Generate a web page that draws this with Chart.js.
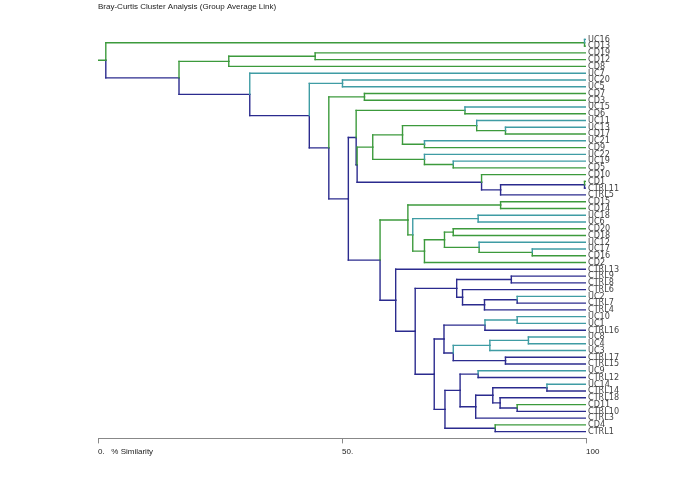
<!DOCTYPE html>
<html>
<head>
<meta charset="utf-8">
<script src="https://cdn.jsdelivr.net/npm/chart.js@4.4.0/dist/chart.umd.min.js"></script>
<style>
  html, body { margin: 0; padding: 0; background: #fff; }
</style>
</head>
<body>
<canvas id="dendro" width="685" height="480"></canvas>
<script>
// leaves, top to bottom
const leafLabels = [
  'UC16', 'CD13', 'CD19', 'CD12', 'CD8', 'UC7', 'UC20', 'UC5', 'CD7', 'CD3',
  'UC15', 'CD6', 'UC11', 'UC13', 'CD17', 'UC21', 'CD9', 'UC22', 'UC19', 'CD5',
  'CD10', 'CD1', 'CTRL11', 'CTRL5', 'CD15', 'CD14', 'UC18', 'UC6', 'CD20', 'CD18',
  'UC12', 'UC17', 'CD16', 'CD2', 'CTRL13', 'CTRL9', 'CTRL8', 'CTRL6', 'UC2', 'CTRL7',
  'CTRL4', 'UC10', 'UC1', 'CTRL16', 'UC8', 'UC4', 'UC3', 'CTRL17', 'CTRL15', 'UC9',
  'CTRL12', 'UC14', 'CTRL14', 'CTRL18', 'CD11', 'CTRL10', 'CTRL3', 'CD4', 'CTRL1'
];

// merges: cluster #i joins mergeTop[i] and mergeBottom[i] at mergeSimilarity[i] (%)
const mergeTop = [
  'UC16', 'CD19', '#1', 'UC20', 'CD7', 'UC15', 'UC13', 'UC11', 'UC21', '#7',
  'UC19', 'UC22', '#9', 'CD1', '#13', 'CD10', '#12', '#5', 'CD15', 'UC18',
  'CD20', 'UC17', 'UC12', '#20', '#23', '#19', '#18', 'CTRL9', 'UC2', '#28',
  'CTRL6', '#27', 'UC10', '#32', 'UC8', '#34', 'CTRL17', '#35', '#33', 'UC9',
  'UC14', 'CD11', 'CTRL18', '#40', '#43', '#39', 'CD4', '#45', '#38', '#31',
  'CTRL13', '#26', '#17', '#4', '#3', 'UC7', '#2', '#0'
];
const mergeBottom = [
  'CD13', 'CD12', 'CD8', 'UC5', 'CD3', 'CD6', 'CD17', '#6', 'CD9', '#8',
  'CD5', '#10', '#11', 'CTRL11', 'CTRL5', '#14', '#15', '#16', 'CD14', 'UC6',
  'CD18', 'CD16', '#21', '#22', 'CD2', '#24', '#25', 'CTRL8', 'CTRL7', 'CTRL4',
  '#29', '#30', 'UC1', 'CTRL16', 'UC4', 'UC3', 'CTRL15', '#36', '#37', 'CTRL12',
  'CTRL14', 'CTRL10', '#41', '#42', 'CTRL3', '#44', 'CTRL1', '#46', '#47', '#48',
  '#49', '#50', '#51', '#52', '#53', '#54', '#55', '#56'
];
const mergeSimilarity = [
  99.7, 44.5, 26.8, 50.1, 54.6, 75.2, 83.5, 77.6, 66.9, 62.4,
  72.8, 66.9, 56.3, 99.7, 82.5, 78.6, 53.1, 52.9, 82.5, 77.9,
  72.8, 89.0, 78.1, 71.0, 66.9, 64.5, 63.5, 84.7, 85.9, 79.2,
  74.7, 73.5, 85.9, 79.3, 88.2, 80.3, 83.5, 72.8, 70.9, 77.9,
  92.0, 85.9, 82.4, 80.9, 77.4, 74.2, 81.4, 71.1, 68.9, 65.0,
  61.0, 57.8, 51.3, 47.3, 43.3, 31.1, 16.6, 1.6
];

const xTickValues = [0, 50, 100];
const xTickLabels = ['0.   % Similarity', '50.', '100'];

const groupColors = { CD: '#3c9a3c', UC: '#3f9ca4', CTRL: '#2b2b8e' };
const groupRank = { UC: 0, CD: 1, CTRL: 2 };

function groupOf(label) {
  return label.startsWith('CTRL') ? 'CTRL' : label.slice(0, 2);
}

// work out node positions from the merge table
const nodes = {};
leafLabels.forEach((lab, i) => {
  nodes[lab] = { x: 100, y: i, group: groupOf(lab) };
});
mergeTop.forEach((a, i) => {
  const top = nodes[a], bot = nodes[mergeBottom[i]];
  const group = groupRank[top.group] > groupRank[bot.group] ? top.group : bot.group;
  nodes['#' + i] = { x: mergeSimilarity[i], y: (top.y + bot.y) / 2, group: group, top: top, bot: bot };
});

const segments = [];
function seg(x1, y1, x2, y2, group) {
  segments.push({
    data: [{ x: x1, y: y1 }, { x: x2, y: y2 }],
    borderColor: groupColors[group],
    borderWidth: 1.4,
    borderCapStyle: 'square',
    pointRadius: 0,
    showLine: true
  });
}
mergeTop.forEach((a, i) => {
  const n = nodes['#' + i];
  seg(n.top.x, n.top.y, n.x, n.top.y, n.top.group);
  seg(n.bot.x, n.bot.y, n.x, n.bot.y, n.bot.group);
  seg(n.x, n.top.y, n.x, n.y, n.top.group);
  seg(n.x, n.y, n.x, n.bot.y, n.bot.group);
});
const root = nodes['#' + (mergeTop.length - 1)];
seg(0, root.y, root.x, root.y, root.top.group);

new Chart(document.getElementById('dendro').getContext('2d'), {
  type: 'scatter',
  data: { datasets: segments },
  options: {
    responsive: false,
    animation: false,
    devicePixelRatio: 1,
    layout: { padding: { left: 98, right: 0, top: 0, bottom: 19 } },
    plugins: {
      legend: { display: false },
      tooltip: { enabled: false },
      title: {
        display: true,
        text: 'Bray-Curtis Cluster Analysis (Group Average Link)',
        align: 'start',
        color: '#222',
        font: { family: 'Liberation Sans', size: 8, weight: 'normal' },
        padding: { top: 2, bottom: 21 }
      }
    },
    scales: {
      x: {
        type: 'linear',
        min: 0,
        max: 100,
        afterBuildTicks: (s) => { s.ticks = xTickValues.map(v => ({ value: v })); },
        ticks: {
          align: 'start',
          padding: 4,
          color: '#222',
          font: { family: 'Liberation Sans', size: 8 },
          callback: (v, i) => xTickLabels[i]
        },
        grid: { drawOnChartArea: false, tickLength: 5, color: '#888' },
        border: { color: '#888' }
      },
      y: {
        type: 'linear',
        position: 'right',
        reverse: true,
        min: -1,
        max: 59,
        afterBuildTicks: (s) => { s.ticks = leafLabels.map((_, i) => ({ value: i })); },
        afterFit: (s) => { s.width = 99; },
        ticks: {
          autoSkip: false,
          padding: 2,
          color: '#444',
          font: { family: "'Liberation Sans Narrow', 'DejaVu Sans Condensed', 'Liberation Sans'", size: 9 },
          callback: (v) => leafLabels[v]
        },
        grid: { display: false, drawTicks: false },
        border: { display: false }
      }
    }
  }
});
</script>
</body>
</html>
